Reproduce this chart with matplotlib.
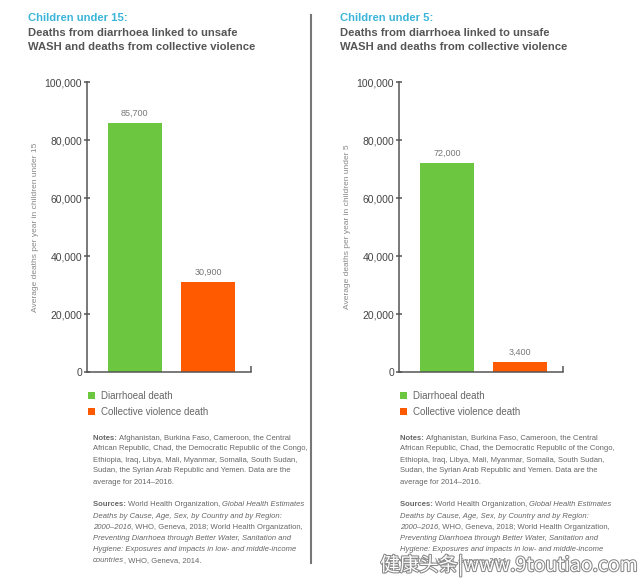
import matplotlib
matplotlib.use('Agg')
import matplotlib.pyplot as plt
from matplotlib import font_manager as fm
from matplotlib.patches import Patch
import matplotlib.patheffects as pe

# data
categories = ['Diarrhoeal death', 'Collective violence death']
under15 = [85700, 30900]
under5 = [72000, 3400]
colors = ['#6DC640', '#FF5A00']
yticks = [0, 20000, 40000, 60000, 80000, 100000]

names = {f.name for f in fm.fontManager.ttflist}
NARROW = 'Liberation Sans Narrow' if 'Liberation Sans Narrow' in names else 'Liberation Sans'
MAIN = 'Liberation Sans'
GREY = '#555555'
SMALL = 6.4 if NARROW == 'Liberation Sans Narrow' else 5.5

W, H = 640, 578
fig = plt.figure(figsize=(6.4, 5.78), dpi=100)


def fx(px):
    return px / W


def fy(py):
    return 1 - py / H


def panel(x0, values, title_small, ylabel):
    ax = fig.add_axes([fx(x0), fy(372), fx(164), 290 / H])
    pos = range(len(values))
    bars = ax.bar(pos, values, width=0.735, color=colors)
    for b, v in zip(bars, values):
        ax.text(b.get_x() + b.get_width() / 2, v + 2000, f'{v:,}',
                ha='center', va='bottom', fontsize=6.5, color='#777777',
                family=NARROW)
    ax.set_xlim(-0.65, 1.58)
    ax.set_ylim(0, 100000)
    ax.set_yticks(yticks)
    ax.set_yticklabels([f'{t:,}' for t in yticks], family=MAIN, fontsize=7.5,
                       color='#444444')
    ax.tick_params(axis='y', direction='inout', length=5, width=1.1,
                   color=GREY, pad=1)
    ax.set_xticks([1.58])
    ax.set_xticklabels([''])
    ax.tick_params(axis='x', direction='in', length=4, width=1.1, color=GREY)
    for s in ['top', 'right']:
        ax.spines[s].set_visible(False)
    for s in ['left', 'bottom']:
        ax.spines[s].set_color(GREY)
        ax.spines[s].set_linewidth(1.1)
    ax.set_ylabel(ylabel, family=NARROW, fontsize=6.0, color='#888888',
                  labelpad=4)

    tx = x0 - 59
    fig.text(fx(tx), fy(18), title_small, family=MAIN, fontsize=8.1,
             weight='bold', color='#3BB4DA', va='center')
    fig.text(fx(tx), fy(33), 'Deaths from diarrhoea linked to unsafe',
             family=MAIN, fontsize=8.1, weight='bold', color='#555555',
             va='center')
    fig.text(fx(tx), fy(47), 'WASH and deaths from collective violence',
             family=MAIN, fontsize=8.1, weight='bold', color='#555555',
             va='center')

    handles = [Patch(facecolor=c, edgecolor='none') for c in colors]
    fig.legend(handles, categories, loc='upper left',
               bbox_to_anchor=(fx(x0 + 1), fy(391)), frameon=False,
               handlelength=0.75, handleheight=0.75, handletextpad=0.6,
               labelspacing=0.65, borderaxespad=0, borderpad=0,
               prop={'family': NARROW, 'size': 7}, labelcolor='#666666')
    return ax


ax1 = panel(87, under15, 'Children under 15:',
            'Average deaths per year in children under 15')
ax2 = panel(399, under5, 'Children under 5:',
            'Average deaths per year in children under 5')

notes = [
    [('Notes: ', 'bold', 'normal'),
     ('Afghanistan, Burkina Faso, Cameroon, the Central', 'normal', 'normal')],
    [('African Republic, Chad, the Democratic Republic of the Congo,', 'normal', 'normal')],
    [('Ethiopia, Iraq, Libya, Mali, Myanmar, Somalia, South Sudan,', 'normal', 'normal')],
    [('Sudan, the Syrian Arab Republic and Yemen. Data are the', 'normal', 'normal')],
    [('average for 2014\u20132016.', 'normal', 'normal')],
]
sources = [
    [('Sources: ', 'bold', 'normal'), ('World Health Organization, ', 'normal', 'normal'),
     ('Global Health Estimates', 'normal', 'italic')],
    [('Deaths by Cause, Age, Sex, by Country and by Region:', 'normal', 'italic')],
    [('2000\u20132016', 'normal', 'italic'),
     (', WHO, Geneva, 2018; World Health Organization,', 'normal', 'normal')],
    [('Preventing Diarrhoea through Better Water, Sanitation and', 'normal', 'italic')],
    [('Hygiene: Exposures and impacts in low- and middle-income', 'normal', 'italic')],
    [('countries', 'normal', 'italic'), (', WHO, Geneva, 2014.', 'normal', 'normal')],
]

renderer = fig.canvas.get_renderer()


def runs(x, y, parts):
    for txt, wt, st in parts:
        t = fig.text(fx(x), fy(y), txt, family=NARROW, fontsize=SMALL,
                     weight=wt, style=st, color='#666666', va='center')
        bb = t.get_window_extent(renderer)
        x += bb.width


for x0 in (93, 400):
    for i, line in enumerate(notes):
        runs(x0, 438 + i * 11, line)
    for i, line in enumerate(sources):
        runs(x0, 505 + i * 11.1, line)

# divider between the two panels
fig.add_artist(plt.Line2D([fx(311), fx(311)], [fy(15), fy(563)],
                          color='#777777', linewidth=1.5))

wm = fig.text(fx(638), fy(566), '健康头条|www.9toutiao.com',
              family=['Noto Sans CJK SC', 'DejaVu Sans'], fontsize=14,
              color='white', ha='right', va='center')
wm.set_path_effects([pe.withStroke(linewidth=1.5, foreground='#888888')])

fig.savefig('out.png', dpi=100)
